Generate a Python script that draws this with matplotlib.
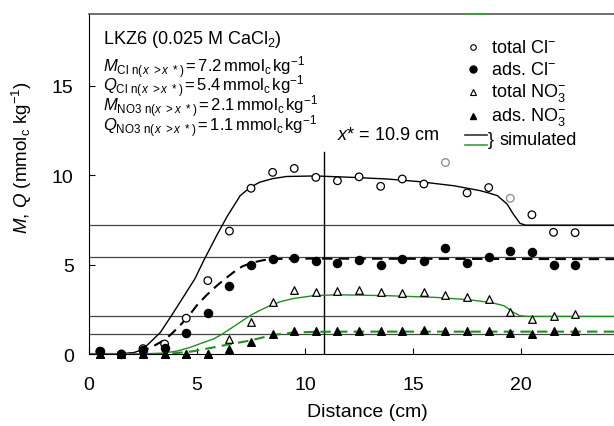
import matplotlib
matplotlib.use("Agg")
import matplotlib.pyplot as plt

plt.rcParams['font.family'] = ['Liberation Sans', 'DejaVu Sans']
plt.rcParams['mathtext.fontset'] = 'custom'
plt.rcParams['mathtext.rm'] = 'Liberation Sans'
plt.rcParams['mathtext.it'] = 'Liberation Sans:italic'
plt.rcParams['mathtext.bf'] = 'Liberation Sans:bold'

# observed data (column segments, cm)
distance = [0.5, 1.5, 2.5, 3.5, 4.5, 5.5, 6.5, 7.5, 8.5, 9.5, 10.5, 11.5,
            12.5, 13.5, 14.5, 15.5, 16.5, 17.5, 18.5, 19.5, 20.5, 21.5, 22.5]
total_cl = [0.15, 0.0, 0.3, 0.56, 2.0, 4.1, 6.87, 9.26, 10.15, 10.37, 9.87, 9.68,
            9.9, 9.37, 9.78, 9.5, 10.7, 9.0, 9.3, 8.7, 7.78, 6.8, 6.78]
gray_points = [16, 19]  # outliers drawn in grey
ads_cl = [0.18, 0.0, 0.22, 0.33, 1.17, 2.3, 3.78, 4.95, 5.3, 5.38, 5.18, 5.07,
          5.23, 5.0, 5.3, 5.2, 5.9, 5.08, 5.4, 5.77, 5.72, 5.0, 4.97]
total_no3 = [0, 0, 0, 0, 0, 0, 0.85, 1.8, 2.92, 3.55, 3.48, 3.54,
             3.57, 3.44, 3.39, 3.46, 3.31, 3.16, 3.05, 2.35, 1.96, 2.14, 2.25]
ads_no3 = [0, 0, 0, 0, 0, 0, 0.3, 0.67, 1.09, 1.27, 1.27, 1.27,
           1.27, 1.27, 1.27, 1.33, 1.27, 1.27, 1.3, 1.17, 1.1, 1.27, 1.3]

# simulated profiles
sim_cl_x = [0, 1.7, 2.0, 2.3, 2.7, 3.3, 3.9, 4.5, 4.9, 5.3, 5.9, 6.4, 7.0, 7.45,
            7.9, 8.5, 9.15, 10.5, 12.2, 13.8, 15.3, 16.9, 18.1, 18.5, 18.9,
            19.35, 19.65, 19.95, 20.2, 24.3]
sim_cl_y = [0, 0, 0.05, 0.17, 0.5, 1.2, 2.3, 3.44, 4.2, 5.2, 6.6, 7.7, 8.85, 9.3,
            9.6, 9.8, 9.92, 9.95, 9.87, 9.78, 9.63, 9.4, 9.13, 9.0, 8.85,
            8.38, 7.8, 7.3, 7.2, 7.2]
sim_ads_cl_x = [0, 1.5, 2.0, 2.5, 3.0, 3.44, 3.8, 4.2, 4.6, 4.98, 5.45, 5.9, 6.3,
                6.68, 7.1, 7.6, 8.1, 8.53, 9.4, 10.5, 24.3]
sim_ads_cl_y = [0, 0, 0.05, 0.18, 0.45, 0.75, 1.1, 1.58, 2.1, 2.7, 3.3, 3.8, 4.2,
                4.56, 4.9, 5.12, 5.25, 5.3, 5.33, 5.33, 5.3]
sim_no3_x = [0, 1.6, 2.5, 3.44, 4.1, 4.68, 5.2, 5.76, 6.15, 6.53, 7.0, 7.45, 7.85,
             8.23, 8.84, 9.46, 10.4, 11.5, 13.8, 16.1, 17.6, 18.6, 19.2, 19.45,
             19.65, 19.95, 20.3, 24.3]
sim_no3_y = [0, 0, 0.01, 0.05, 0.17, 0.37, 0.6, 0.84, 1.1, 1.4, 1.78, 2.14, 2.4,
             2.62, 2.92, 3.1, 3.26, 3.31, 3.26, 3.16, 3.03, 2.88, 2.7, 2.5,
             2.32, 2.14, 2.1, 2.1]
sim_ads_no3_x = [0, 3.5, 4.0, 4.8, 5.6, 6.4, 7.45, 8.5, 9.46, 10.5, 12.0, 24.3]
sim_ads_no3_y = [0, 0, 0.05, 0.15, 0.33, 0.52, 0.75, 1.06, 1.2, 1.24, 1.25, 1.25]

# levels beyond x*
levels = [7.2, 5.4, 2.1, 1.1]
level_text = [('M', 'Cl', '7.2'), ('Q', 'Cl', '5.4'),
              ('M', 'NO3', '2.1'), ('Q', 'NO3', '1.1')]
x_star = 10.9

green = '#1f8f1f'

fig = plt.figure(figsize=(6.14, 4.27), dpi=100)
ax = fig.add_axes([89 / 614, 1 - 355 / 427, 525 / 614, 340 / 427])

for lv in levels:
    ax.axhline(lv, color='#444444', lw=0.9, zorder=1)
ax.plot([x_star, x_star], [0, 11.3], color='black', lw=1.0, zorder=1)

ax.plot(sim_cl_x, sim_cl_y, color='black', lw=1.0, zorder=2)
ax.plot(sim_ads_cl_x, sim_ads_cl_y, color='black', lw=1.5, ls=(0, (5, 3)), zorder=2)
ax.plot(sim_no3_x, sim_no3_y, color=green, lw=1.0, zorder=2)
ax.plot(sim_ads_no3_x, sim_ads_no3_y, color=green, lw=1.5, ls=(0, (5, 3)), zorder=2)

edge = ['#888888' if i in gray_points else 'black' for i in range(len(distance))]
ax.scatter(distance, total_cl, s=30, facecolors='white', edgecolors=edge,
           linewidths=0.9, zorder=4, clip_on=False)
ax.scatter(distance, ads_cl, s=34, color='black', zorder=4, clip_on=False)
ax.scatter(distance, total_no3, s=30, marker='^', facecolors='white',
           edgecolors='black', linewidths=0.9, zorder=3, clip_on=False)
ax.scatter(distance, ads_no3, s=30, marker='^', color='black', zorder=3, clip_on=False)

ax.set_xlim(0, 24.3)
ax.set_ylim(0, 19)
ax.set_xticks([0, 5, 10, 15, 20])
ax.set_yticks([0, 5, 10, 15])
ax.tick_params(direction='in', labelsize=14, length=4)
ax.tick_params(axis='x', pad=16)
ax.tick_params(axis='y', pad=11)
ax.spines['right'].set_visible(False)
ax.spines['top'].set_color('#555555')
ax.spines['top'].set_linewidth(1.2)

ax.set_xlabel('Distance (cm)', fontsize=14)
ax.xaxis.set_label_coords(0.53, -0.145)
ax.set_ylabel(r'$M$, $Q$ (mmol$_{\rm c}$ kg$^{-1}$)', fontsize=13.5)
ax.yaxis.set_label_coords(-0.105, 0.58)

# annotation block
fs = 13
ax.text(0.65, 17.65, r'LKZ6 (0.025 M CaCl$_2$)', fontsize=fs, va='center')
rows_y = [16.03, 14.97, 13.85, 12.74]
for (sym, ion, val), yy in zip(level_text, rows_y):
    label = (r'$%s_{\rm %s\ n(}$$_{x\ >x\ *)}$' % (sym, ion)
             + r'$\,$=$\,$' + val + r'$\,$mmol$_{\rm c}$$\,$kg$^{-1}$')
    ax.text(0.65, yy, label, fontsize=12, va='center')
ax.text(11.48, 12.29, r'$x$* = 10.9 cm', fontsize=fs, va='center')

# hand-made legend
mx, tx = 17.78, 18.61
ax.plot(mx, 17.15, 'o', ms=4, mfc='white', mec='black', mew=0.8)
ax.text(tx, 17.15, r'total Cl$^{-}$', fontsize=fs, va='center')
ax.plot(mx, 15.92, 'o', ms=5, color='black')
ax.text(tx, 15.92, r'ads. Cl$^{-}$', fontsize=fs, va='center')
ax.plot(mx, 14.64, '^', ms=4, mfc='white', mec='black', mew=0.8)
ax.text(tx, 14.64, r'total NO$_3^{-}$', fontsize=fs, va='center')
ax.plot(mx, 13.30, '^', ms=4, color='black')
ax.text(tx, 13.30, r'ads. NO$_3^{-}$', fontsize=fs, va='center')
ax.plot([17.41, 18.43], [12.23, 12.23], color='#333333', lw=1.2)
ax.plot([17.41, 18.43], [11.68, 11.68], color='#3aa03a', lw=1.2)
ax.text(18.47, 11.96, '}', fontsize=fs, va='center')
ax.text(19.0, 12.01, 'simulated', fontsize=fs, va='center')
ax.plot([17.45, 18.4], [19, 19], color='#3aa03a', lw=1.2, clip_on=False, zorder=5)

fig.savefig('out.png', dpi=100)
